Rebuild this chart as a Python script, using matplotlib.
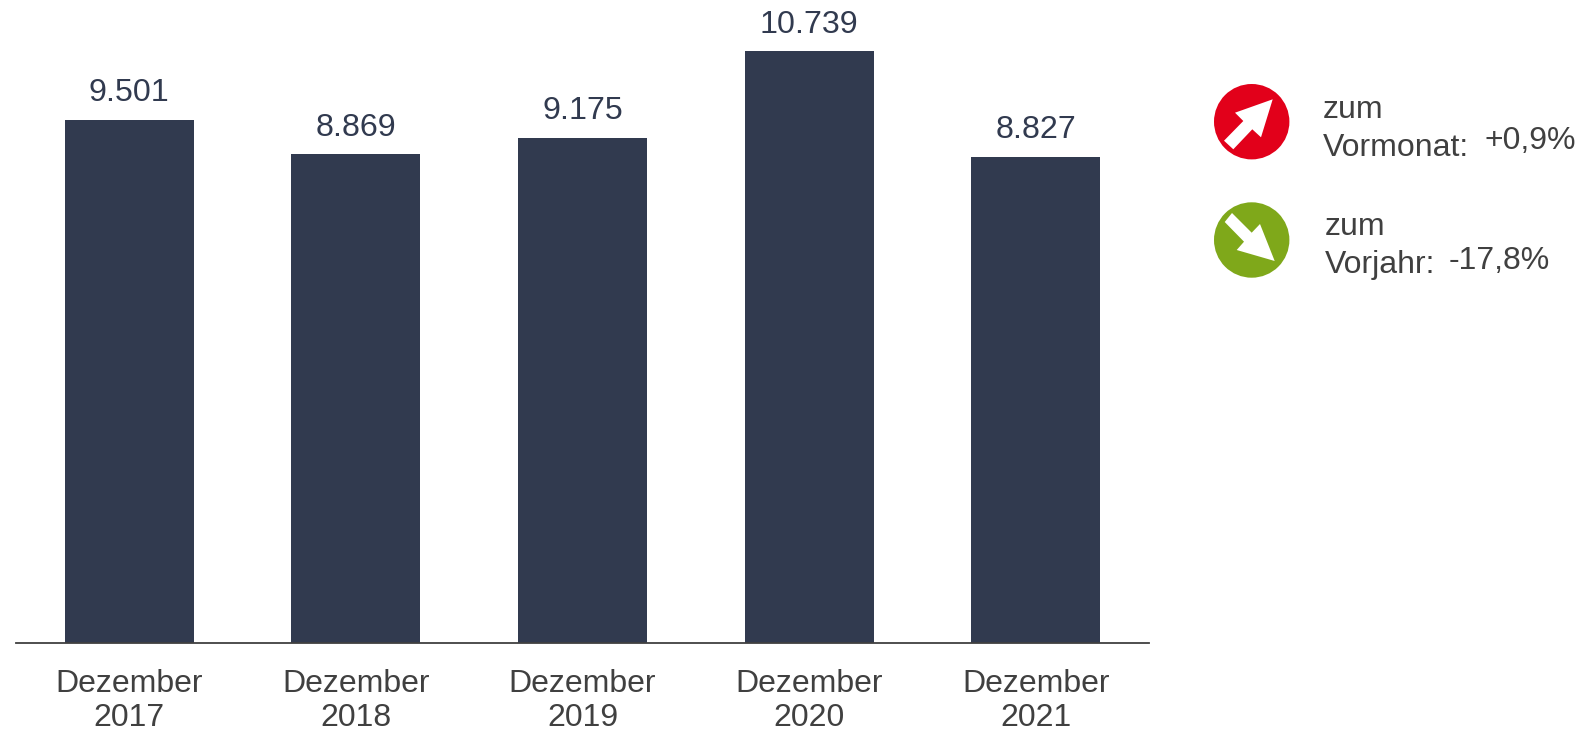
#!/usr/bin/env python3
import matplotlib
matplotlib.use('Agg')
import matplotlib.pyplot as plt
from matplotlib.patches import Circle, Polygon

plt.rcParams['font.family'] = ['Liberation Sans', 'DejaVu Sans']

months = ['Dezember\n2017', 'Dezember\n2018', 'Dezember\n2019', 'Dezember\n2020', 'Dezember\n2021']
values = [9501, 8869, 9175, 10739, 8827]
value_labels = ['9.501', '8.869', '9.175', '10.739', '8.827']

W, H = 1584, 732
BAR_COLOR = '#313a4f'
TEXT_COLOR = '#404040'

fig = plt.figure(figsize=(W / 100, H / 100), dpi=100)
ax = fig.add_axes([16 / W, (H - 643) / H, (1149 - 16) / W, 643 / H])

bars = ax.bar(range(len(values)), values, width=0.57, color=BAR_COLOR)
for bar, label in zip(bars, value_labels):
    ax.annotate(label, (bar.get_x() + bar.get_width() / 2, bar.get_height()),
                xytext=(0, 13.5), textcoords='offset points',
                ha='center', va='baseline', fontsize=23.2, color=BAR_COLOR,
                annotation_clip=False)

ax.set_xlim(-0.5, 4.5)
ax.set_ylim(0, 11674)
ax.set_xticks(range(len(months)))
ax.set_xticklabels(months, fontsize=23, color=TEXT_COLOR, linespacing=1.2)
ax.tick_params(axis='x', length=0, pad=18.5)
ax.get_yaxis().set_visible(False)
for side in ['top', 'left', 'right']:
    ax.spines[side].set_visible(False)
ax.spines['bottom'].set_linewidth(1.3)
ax.spines['bottom'].set_color(TEXT_COLOR)

# overlay in pixel coordinates for the two indicators on the right
over = fig.add_axes([0, 0, 1, 1])
over.set_xlim(0, W)
over.set_ylim(H, 0)
over.axis('off')
over.patch.set_visible(False)

over.add_patch(Circle((1251.7, 121.7), 37.7, color='#e2001a', lw=0))
over.add_patch(Polygon([(1272.7, 99.3), (1235, 112.7), (1243.3, 121), (1224, 140.7),
                        (1233.3, 149.3), (1252.3, 129.3), (1261, 137.3)],
                       closed=True, color='white', lw=0))
over.add_patch(Circle((1251.7, 240), 37.7, color='#7fa81a', lw=0))
over.add_patch(Polygon([(1274.7, 261), (1260, 224), (1251.7, 232.7), (1232, 213),
                        (1224.7, 222), (1244, 241.7), (1236.7, 250)],
                       closed=True, color='white', lw=0))

txt = dict(fontsize=23, color=TEXT_COLOR, va='baseline', ha='left')
over.text(1323, 117.7, 'zum', **txt)
over.text(1323, 156, 'Vormonat:', **txt)
over.text(1484, 149, '+0,9%', **txt)
over.text(1325, 235, 'zum', **txt)
over.text(1325, 273, 'Vorjahr:', **txt)
over.text(1449, 269, '-17,8%', **txt)

fig.savefig('out.png', dpi=100)
